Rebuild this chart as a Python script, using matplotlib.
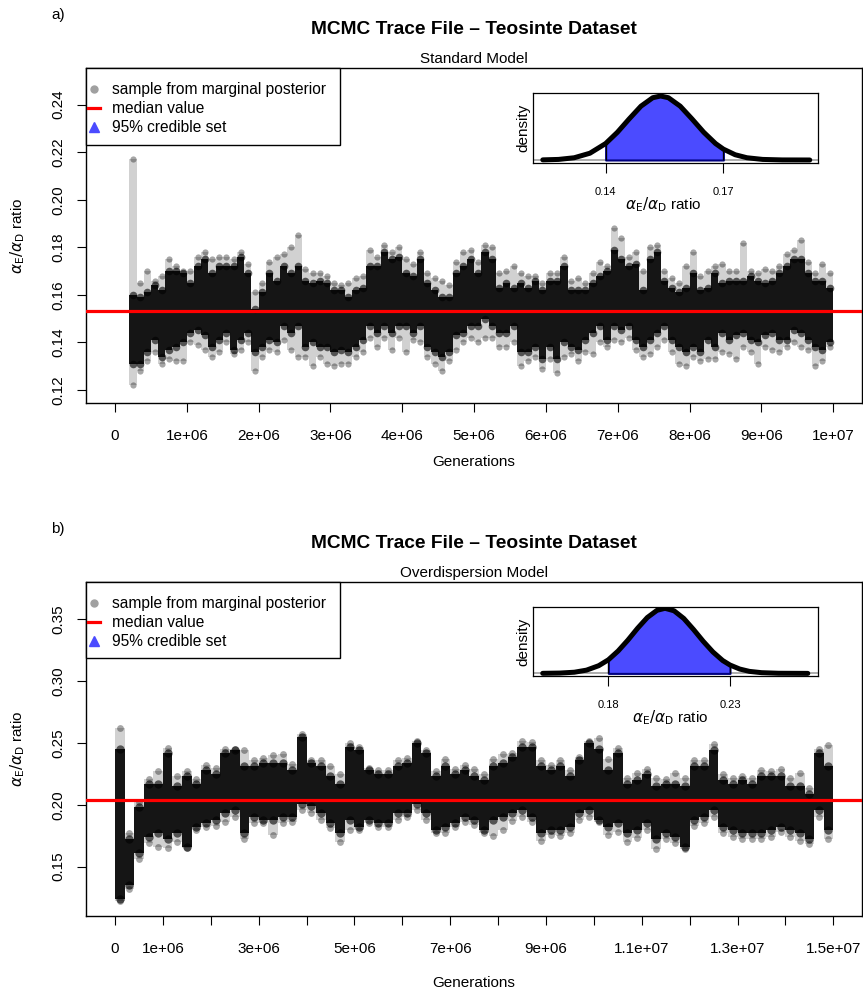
import matplotlib
matplotlib.use("Agg")
import matplotlib.pyplot as plt
import numpy as np
from matplotlib.lines import Line2D
from matplotlib.patches import Rectangle

plt.rcParams["font.family"] = ["Liberation Sans", "DejaVu Sans"]
plt.rcParams["mathtext.fontset"] = "dejavusans"

# ---- a) standard model: trace summarised per 1e5 generations, first bin at 2e5
std_start = 2e5
std_step = 1e5
std_core_lo = [0.131, 0.131, 0.136, 0.141, 0.134, 0.137, 0.138, 0.140, 0.144, 0.145,
               0.143, 0.138, 0.141, 0.144, 0.137, 0.141, 0.144, 0.136, 0.138, 0.141,
               0.140, 0.147, 0.144, 0.147, 0.138, 0.140, 0.138, 0.138, 0.136, 0.137,
               0.136, 0.138, 0.141, 0.147, 0.144, 0.147, 0.144, 0.147, 0.147, 0.144,
               0.147, 0.138, 0.136, 0.134, 0.136, 0.143, 0.144, 0.147, 0.147, 0.150,
               0.147, 0.144, 0.144, 0.147, 0.136, 0.136, 0.138, 0.133, 0.138, 0.133,
               0.140, 0.138, 0.137, 0.141, 0.144, 0.147, 0.141, 0.147, 0.145, 0.147,
               0.141, 0.138, 0.141, 0.144, 0.147, 0.141, 0.138, 0.136, 0.138, 0.136,
               0.141, 0.138, 0.144, 0.141, 0.143, 0.144, 0.141, 0.140, 0.143, 0.144,
               0.141, 0.141, 0.145, 0.144, 0.141, 0.138, 0.137, 0.140]
std_core_hi = [0.160, 0.159, 0.161, 0.164, 0.162, 0.170, 0.170, 0.169, 0.165, 0.172,
               0.175, 0.169, 0.172, 0.172, 0.172, 0.176, 0.169, 0.154, 0.161, 0.169,
               0.166, 0.172, 0.169, 0.172, 0.166, 0.165, 0.166, 0.165, 0.162, 0.162,
               0.159, 0.162, 0.163, 0.172, 0.172, 0.178, 0.175, 0.176, 0.169, 0.168,
               0.175, 0.165, 0.162, 0.159, 0.159, 0.169, 0.172, 0.175, 0.169, 0.178,
               0.175, 0.163, 0.165, 0.163, 0.165, 0.163, 0.166, 0.162, 0.166, 0.166,
               0.172, 0.162, 0.162, 0.162, 0.165, 0.168, 0.170, 0.179, 0.175, 0.172,
               0.173, 0.162, 0.175, 0.178, 0.166, 0.163, 0.161, 0.163, 0.169, 0.162,
               0.163, 0.169, 0.165, 0.166, 0.166, 0.166, 0.168, 0.166, 0.165, 0.166,
               0.169, 0.172, 0.175, 0.175, 0.169, 0.166, 0.166, 0.163]
std_fringe_lo = [0.122, 0.128, 0.132, 0.136, 0.131, 0.133, 0.132, 0.132, 0.140, 0.139,
                 0.137, 0.134, 0.136, 0.140, 0.135, 0.137, 0.140, 0.128, 0.134, 0.137,
                 0.136, 0.141, 0.137, 0.134, 0.134, 0.130, 0.134, 0.131, 0.130, 0.131,
                 0.131, 0.134, 0.136, 0.142, 0.138, 0.142, 0.137, 0.142, 0.136, 0.141,
                 0.140, 0.134, 0.131, 0.128, 0.132, 0.137, 0.140, 0.142, 0.140, 0.142,
                 0.142, 0.138, 0.138, 0.140, 0.130, 0.132, 0.134, 0.129, 0.133, 0.127,
                 0.134, 0.135, 0.132, 0.136, 0.135, 0.140, 0.138, 0.141, 0.140, 0.142,
                 0.137, 0.134, 0.135, 0.138, 0.141, 0.136, 0.131, 0.130, 0.134, 0.132,
                 0.133, 0.133, 0.136, 0.135, 0.133, 0.138, 0.136, 0.131, 0.138, 0.137,
                 0.136, 0.138, 0.140, 0.138, 0.137, 0.130, 0.132, 0.138]
std_fringe_hi = [0.217, 0.165, 0.170, 0.166, 0.168, 0.175, 0.172, 0.170, 0.170, 0.176,
                 0.178, 0.175, 0.176, 0.176, 0.175, 0.178, 0.173, 0.161, 0.165, 0.174,
                 0.176, 0.177, 0.180, 0.185, 0.171, 0.169, 0.169, 0.168, 0.165, 0.164,
                 0.165, 0.167, 0.168, 0.179, 0.176, 0.181, 0.178, 0.180, 0.175, 0.173,
                 0.178, 0.169, 0.167, 0.166, 0.164, 0.174, 0.178, 0.179, 0.174, 0.181,
                 0.180, 0.169, 0.170, 0.172, 0.169, 0.168, 0.168, 0.165, 0.169, 0.169,
                 0.176, 0.166, 0.167, 0.165, 0.169, 0.174, 0.172, 0.188, 0.184, 0.176,
                 0.178, 0.170, 0.180, 0.181, 0.170, 0.167, 0.165, 0.172, 0.178, 0.168,
                 0.170, 0.172, 0.173, 0.170, 0.170, 0.182, 0.170, 0.169, 0.171, 0.170,
                 0.172, 0.177, 0.179, 0.183, 0.174, 0.169, 0.173, 0.169]
std_median = 0.153
std_ci = (0.14, 0.17)
std_dens_x = [0.124, 0.128, 0.132, 0.136, 0.140, 0.143, 0.146, 0.149, 0.152, 0.154, 0.156,
              0.159, 0.162, 0.165, 0.168, 0.170, 0.173, 0.176, 0.180, 0.185, 0.192]
std_dens_y = [0.002, 0.009, 0.035, 0.106, 0.257, 0.433, 0.642, 0.841, 0.973, 1.0, 0.973,
              0.841, 0.642, 0.433, 0.257, 0.170, 0.082, 0.035, 0.009, 0.001, 0.0]
std_yticks = [0.12, 0.14, 0.16, 0.18, 0.20, 0.22, 0.24]
std_xticks = [0, 1e6, 2e6, 3e6, 4e6, 5e6, 6e6, 7e6, 8e6, 9e6, 1e7]
std_xlabels = ["0", "1e+06", "2e+06", "3e+06", "4e+06", "5e+06", "6e+06", "7e+06",
               "8e+06", "9e+06", "1e+07"]

# ---- b) overdispersion model: trace summarised per 2e5 generations
od_start = 0
od_step = 2e5
od_core_lo = [0.124, 0.135, 0.161, 0.174, 0.177, 0.172, 0.177, 0.166, 0.182, 0.185,
              0.188, 0.193, 0.196, 0.177, 0.190, 0.188, 0.188, 0.190, 0.190, 0.201,
              0.199, 0.193, 0.185, 0.177, 0.188, 0.182, 0.188, 0.185, 0.185, 0.193,
              0.193, 0.201, 0.193, 0.180, 0.182, 0.185, 0.190, 0.188, 0.180, 0.188,
              0.190, 0.193, 0.196, 0.190, 0.177, 0.180, 0.180, 0.182, 0.193, 0.196,
              0.188, 0.182, 0.185, 0.177, 0.180, 0.185, 0.172, 0.177, 0.174, 0.166,
              0.188, 0.190, 0.196, 0.182, 0.180, 0.177, 0.177, 0.177, 0.180, 0.182,
              0.180, 0.177, 0.172, 0.196, 0.180]
od_core_hi = [0.245, 0.172, 0.198, 0.217, 0.217, 0.242, 0.215, 0.223, 0.217, 0.228,
              0.225, 0.242, 0.244, 0.231, 0.231, 0.234, 0.234, 0.234, 0.228, 0.255,
              0.234, 0.231, 0.223, 0.217, 0.247, 0.244, 0.228, 0.225, 0.225, 0.231,
              0.234, 0.250, 0.242, 0.223, 0.231, 0.225, 0.228, 0.223, 0.220, 0.231,
              0.234, 0.239, 0.247, 0.247, 0.231, 0.228, 0.231, 0.223, 0.236, 0.250,
              0.245, 0.228, 0.242, 0.217, 0.220, 0.225, 0.215, 0.217, 0.217, 0.215,
              0.231, 0.231, 0.244, 0.220, 0.217, 0.220, 0.217, 0.223, 0.223, 0.223,
              0.215, 0.215, 0.209, 0.242, 0.231]
od_fringe_lo = [0.122, 0.132, 0.156, 0.169, 0.166, 0.165, 0.170, 0.165, 0.180, 0.182,
                0.183, 0.186, 0.190, 0.172, 0.185, 0.185, 0.176, 0.185, 0.186, 0.196,
                0.193, 0.188, 0.181, 0.170, 0.180, 0.180, 0.185, 0.182, 0.182, 0.188,
                0.190, 0.196, 0.188, 0.177, 0.177, 0.182, 0.186, 0.184, 0.177, 0.175,
                0.180, 0.187, 0.190, 0.186, 0.171, 0.176, 0.175, 0.177, 0.188, 0.190,
                0.186, 0.176, 0.178, 0.170, 0.173, 0.180, 0.164, 0.172, 0.169, 0.164,
                0.183, 0.185, 0.190, 0.177, 0.174, 0.172, 0.172, 0.172, 0.174, 0.178,
                0.174, 0.171, 0.168, 0.190, 0.172]
od_fringe_hi = [0.262, 0.177, 0.202, 0.221, 0.227, 0.246, 0.223, 0.227, 0.221, 0.232,
                0.230, 0.245, 0.245, 0.244, 0.236, 0.238, 0.240, 0.241, 0.233, 0.257,
                0.236, 0.236, 0.231, 0.225, 0.250, 0.247, 0.230, 0.228, 0.228, 0.236,
                0.238, 0.252, 0.244, 0.227, 0.237, 0.229, 0.232, 0.229, 0.225, 0.237,
                0.241, 0.242, 0.252, 0.251, 0.236, 0.232, 0.236, 0.228, 0.239, 0.252,
                0.254, 0.237, 0.246, 0.222, 0.226, 0.229, 0.222, 0.221, 0.226, 0.222,
                0.236, 0.236, 0.249, 0.225, 0.222, 0.223, 0.222, 0.228, 0.227, 0.229,
                0.222, 0.226, 0.214, 0.245, 0.248]
od_median = 0.204
od_ci = (0.18, 0.23)
od_dens_x = [0.153, 0.160, 0.166, 0.171, 0.176, 0.180, 0.184, 0.188, 0.192, 0.196, 0.200,
             0.2033, 0.207, 0.211, 0.215, 0.219, 0.223, 0.227, 0.230, 0.234, 0.238, 0.243,
             0.250, 0.262]
od_dens_y = [0.001, 0.005, 0.018, 0.050, 0.118, 0.209, 0.344, 0.510, 0.693, 0.858, 0.969,
             1.0, 0.962, 0.844, 0.675, 0.493, 0.329, 0.198, 0.129, 0.067, 0.031, 0.011,
             0.002, 0.0]
od_yticks = [0.15, 0.20, 0.25, 0.30, 0.35]
od_xticks = [0, 1e6, 2e6, 3e6, 4e6, 5e6, 6e6, 7e6, 8e6, 9e6, 1e7, 1.1e7, 1.2e7, 1.3e7,
             1.4e7, 1.5e7]
od_xlabels = ["0", "1e+06", "", "3e+06", "", "5e+06", "", "7e+06", "", "9e+06", "",
              "1.1e+07", "", "1.3e+07", "", "1.5e+07"]

title = "MCMC Trace File \u2013 Teosinte Dataset"
ratio_label = r"$\alpha_{\mathrm{E}}/\alpha_{\mathrm{D}}$ ratio"
legend_labels = ["sample from marginal posterior", "median value", "95% credible set"]

W, H = 863, 993
fig = plt.figure(figsize=(W / 100, H / 100), dpi=100)


def px_axes(left, top, right, bottom):
    return fig.add_axes([left / W, 1 - bottom / H, (right - left) / W, (bottom - top) / H])


def draw_trace(ax, start, step, core_lo, core_hi, fr_lo, fr_hi, median, dot):
    n = len(core_lo)
    edges = start + step * np.arange(n + 1)
    centres = edges[:-1] + step / 2
    # step fill: the last bin value is repeated to close the final edge
    ax.fill_between(edges, fr_lo + fr_lo[-1:], fr_hi + fr_hi[-1:], step="post",
                    color="black", alpha=0.18, linewidth=0)
    ax.fill_between(edges, core_lo + core_lo[-1:], core_hi + core_hi[-1:], step="post",
                    color="black", alpha=0.9, linewidth=0)
    # sample dots at the edges of the dense cloud and at the outer extremes
    ax.scatter(centres, core_lo, s=dot * 1.5, color="black", alpha=0.6, linewidths=0)
    ax.scatter(centres, core_hi, s=dot * 1.5, color="black", alpha=0.6, linewidths=0)
    ax.scatter(centres, fr_lo, s=dot, color="black", alpha=0.35, linewidths=0)
    ax.scatter(centres, fr_hi, s=dot, color="black", alpha=0.35, linewidths=0)
    ax.axhline(median, color="red", lw=2.3, zorder=5)


def draw_inset(ax, dx, dy, ci, xlim, ylim, xlab_x):
    dx = np.array(dx)
    dy = np.array(dy)
    inside = (dx >= ci[0] - 1e-9) & (dx <= ci[1] + 1e-9)
    ax.axhline(0, color="#a0a0a0", lw=1.2, zorder=1)
    ax.fill_between(dx[inside], 0, dy[inside], color="#4b4bff", edgecolor="#000080",
                    lw=1.5, zorder=2)
    ax.plot(dx, dy, color="black", lw=3.6, solid_capstyle="round", zorder=3)
    ax.vlines([ci[0], ci[1]], 0, [dy[inside][0], dy[inside][-1]], color="black", lw=0.8,
              zorder=4)
    ax.set_xlim(*xlim)
    ax.set_ylim(*ylim)
    ax.set_xticks(list(ci))
    ax.set_xticklabels(["%.2f" % c for c in ci], fontsize=8)
    ax.tick_params(axis="x", direction="out", length=7, width=0.8, pad=10)
    ax.set_yticks([])
    ax.set_ylabel("density", fontsize=11, labelpad=2)
    ax.text(xlab_x, -0.6, ratio_label, transform=ax.transAxes, ha="center", va="center",
            fontsize=11)
    for s in ax.spines.values():
        s.set_linewidth(0.9)


def style_main(ax, xlim, ylim, yticks, xticks, xlabels, leg_h):
    ax.set_xlim(*xlim)
    ax.set_ylim(*ylim)
    ax.set_yticks(yticks)
    ax.set_yticklabels(["%.2f" % v for v in yticks], rotation=90, va="center", fontsize=11)
    ax.set_xticks(xticks)
    ax.set_xticklabels(xlabels, fontsize=11)
    ax.tick_params(axis="both", direction="out", length=6.5, width=0.8)
    ax.tick_params(axis="x", pad=12)
    ax.tick_params(axis="y", pad=8)
    for s in ax.spines.values():
        s.set_linewidth(1.0)
    # legend frame drawn separately so its padding can follow the reference
    ax.add_patch(Rectangle((0, 1 - leg_h), 0.327, leg_h, transform=ax.transAxes,
                           facecolor="white", edgecolor="black", lw=1.0, zorder=8,
                           clip_on=False))
    handles = [
        Line2D([], [], marker="o", ls="none", color="#a0a0a0", markersize=5),
        Line2D([], [], color="red", lw=2.3),
        Line2D([], [], marker="^", ls="none", color="#4b4bff", markersize=7),
    ]
    leg = ax.legend(handles, legend_labels, loc="upper left",
                    bbox_to_anchor=(0.003, 1 - 0.042), borderaxespad=0, borderpad=0,
                    fontsize=11.2, frameon=False, handlelength=0.75, handletextpad=0.8,
                    labelspacing=0.26)
    leg.set_zorder(10)


panels = [
    dict(top=68, bottom=403, tag="a)", tag_y=15, title_y=29, sub="Standard Model",
         sub_y=59, gen_y=462, inset=(533, 93, 818, 163), leg_h=77 / 335,
         trace=(std_start, std_step, std_core_lo, std_core_hi, std_fringe_lo, std_fringe_hi,
                std_median, 20),
         dens=(std_dens_x, std_dens_y, std_ci, (0.1215, 0.1941), (-0.047, 1.047), 0.456),
         xlim=(-0.404e6, 10.40e6), ylim=(0.1145, 0.2554), yticks=std_yticks,
         xticks=std_xticks, xlabels=std_xlabels),
    dict(top=582, bottom=916, tag="b)", tag_y=529, title_y=543, sub="Overdispersion Model",
         sub_y=573, gen_y=983, inset=(533, 607, 818, 676), leg_h=76 / 334,
         trace=(od_start, od_step, od_core_lo, od_core_hi, od_fringe_lo, od_fringe_hi,
                od_median, 24),
         dens=(od_dens_x, od_dens_y, od_ci, (0.149, 0.2662), (-0.04, 1.02), 0.48),
         xlim=(-0.606e6, 15.60e6), ylim=(0.1101, 0.3802), yticks=od_yticks,
         xticks=od_xticks, xlabels=od_xlabels),
]

for p in panels:
    ax = px_axes(86, p["top"], 862, p["bottom"])
    draw_trace(ax, *p["trace"])
    style_main(ax, p["xlim"], p["ylim"], p["yticks"], p["xticks"], p["xlabels"], p["leg_h"])

    l, t, r, b = p["inset"]
    ins = px_axes(l, t, r, b)
    draw_inset(ins, *p["dens"])

    fig.text(58 / W, 1 - p["tag_y"] / H, p["tag"], ha="center", va="center", fontsize=11)
    fig.text(474 / W, 1 - p["title_y"] / H, title, ha="center", va="center",
             fontsize=13.8, fontweight="bold")
    fig.text(474 / W, 1 - p["sub_y"] / H, p["sub"], ha="center", va="center", fontsize=11)
    fig.text(474 / W, 1 - p["gen_y"] / H, "Generations", ha="center", va="center",
             fontsize=11)
    fig.text(18 / W, 1 - (p["top"] + p["bottom"]) / 2 / H, ratio_label, ha="center",
             va="center", rotation=90, fontsize=11)

fig.savefig("out.png", dpi=100)
